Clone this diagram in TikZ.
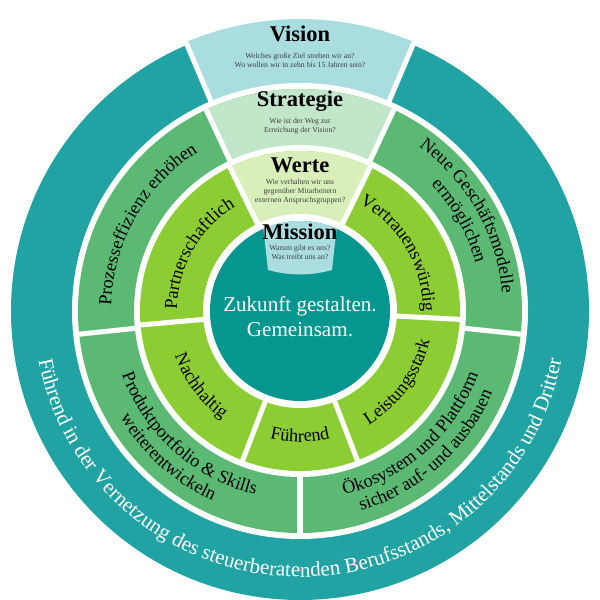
\documentclass[tikz,border=0pt]{standalone}
\usepackage{fontspec}
\setmainfont{Liberation Serif}
\usetikzlibrary{decorations.text}

\definecolor{ringteal}{HTML}{22A3A3}
\definecolor{coreteal}{HTML}{05968F}
\definecolor{paleblue}{HTML}{A9DDE0}
\definecolor{midgreen}{HTML}{5BB974}
\definecolor{palegreen}{HTML}{C2E6CA}
\definecolor{limegreen}{HTML}{8DCD34}
\definecolor{palelime}{HTML}{D9EFBA}

\tikzset{
  sep/.style={white, line width=3.6pt},
  title/.style={font=\bfseries\fontsize{16}{18}\selectfont},
  sub/.style={font=\fontsize{5.5}{6.5}\selectfont, align=center, text=black!75},
  curved/.style={decorate, decoration={text along path, text align=center, text={#1}}}
}
% annular sector: angles a..b, radii r1 (outer) .. r2 (inner)
\newcommand{\sector}[5]{\fill[#1] (#2:#4) arc (#2:#3:#4) -- (#3:#5) arc (#3:#2:#5) -- cycle;}

\begin{document}
\begin{tikzpicture}[scale=0.025]
    \useasboundingbox (-300,-289) rectangle (300,311);

    % outer ring
    \fill[ringteal] (0,0) circle (289);
    \sector{paleblue}{67}{113}{292}{226}
    \draw[sep] (67:226) -- (67:292);
    \draw[sep] (113:226) -- (113:292);
    \fill[white] (0,0) circle (228);

    % strategy ring
    \fill[midgreen] (0,0) circle (222);
    \sector{palegreen}{65}{115}{222}{164}
    \fill[white] (0,0) circle (166);
    \foreach \a in {65,115,186,270,354}
        \draw[sep] (\a:163) -- (\a:225);

    % values ring
    \fill[limegreen] (0,0) circle (160);
    \sector{palelime}{64}{116}{160}{95}
    \fill[white] (0,0) circle (97);
    \foreach \a in {64,116,185,249,291,357}
        \draw[sep] (\a:94) -- (\a:163);

    % core
    \fill[coreteal] (0,0) circle (90);
    \fill[paleblue] (66:90) arc (66:114:90) -- (-32,41)
        .. controls (-10,35) and (10,35) .. (32,41) -- cycle;

    % headings in the top wedges
    \node[title] (vision) at (0,277) {Vision};
    \node[sub] (visionq) at (0,251) {Welches große Ziel streben wir an?\\Wo wollen wir in zehn bis 15 Jahren sein?};
    \node[title] (strategie) at (0,210) {Strategie};
    \node[sub] (strategieq) at (0,185) {Wie ist der Weg zur\\Erreichung der Vision?};
    \node[title] (werte) at (0,146) {Werte};
    \node[sub] (werteq) at (0,119) {Wie verhalten wir uns\\gegenüber Mitarbeitern\\externen Anspruchsgruppen?};
    \node[title] (mission) at (0,79) {Mission};
    \node[sub] (missionq) at (0,59) {Warum gibt es uns?\\Was treibt uns an?};

    \node[font=\fontsize{15}{18}\selectfont, text=white, align=center] (core) at (0,-6) {Zukunft gestalten.\\Gemeinsam.};

    % outer ring text
    \path[curved={|\fontsize{15}{15}\selectfont\color{white}|Führend in der Vernetzung des steuerberatenden Berufsstands, Mittelstands und Dritter}]
        (178:266) arc (178:362:266);

    % strategy ring texts
    \path[curved={|\fontsize{13}{13}\selectfont|Prozesseffizienz erhöhen}] (186:189) arc (186:115:189);
    \path[curved={|\fontsize{13}{13}\selectfont|Neue Geschäftsmodelle}] (65:203) arc (65:-6:203);
    \path[curved={|\fontsize{13}{13}\selectfont|ermöglichen}] (65:182) arc (65:-6:182);
    \path[curved={|\fontsize{13}{13}\selectfont|Produktportfolio {\&} Skills}] (186:189) arc (186:270:189);
    \path[curved={|\fontsize{13}{13}\selectfont|weiterentwickeln}] (186:209) arc (186:270:209);
    \path[curved={|\fontsize{13}{13}\selectfont|Ökosystem und Plattform}] (270:189) arc (270:354:189);
    \path[curved={|\fontsize{13}{13}\selectfont|sicher auf- und ausbauen}] (270:209) arc (270:354:209);

    % values ring texts
    \path[curved={|\fontsize{13}{13}\selectfont|Partnerschaftlich}] (185:123) arc (185:116:123);
    \path[curved={|\fontsize{13}{13}\selectfont|Vertrauenswürdig}] (64:123) arc (64:-3:123);
    \path[curved={|\fontsize{13}{13}\selectfont|Nachhaltig}] (185:133) arc (185:249:133);
    \path[curved={|\fontsize{13}{13}\selectfont|Führend}] (249:131) arc (249:291:131);
    \path[curved={|\fontsize{13}{13}\selectfont|Leistungsstark}] (291:133) arc (291:357:133);
\end{tikzpicture}
\end{document}
